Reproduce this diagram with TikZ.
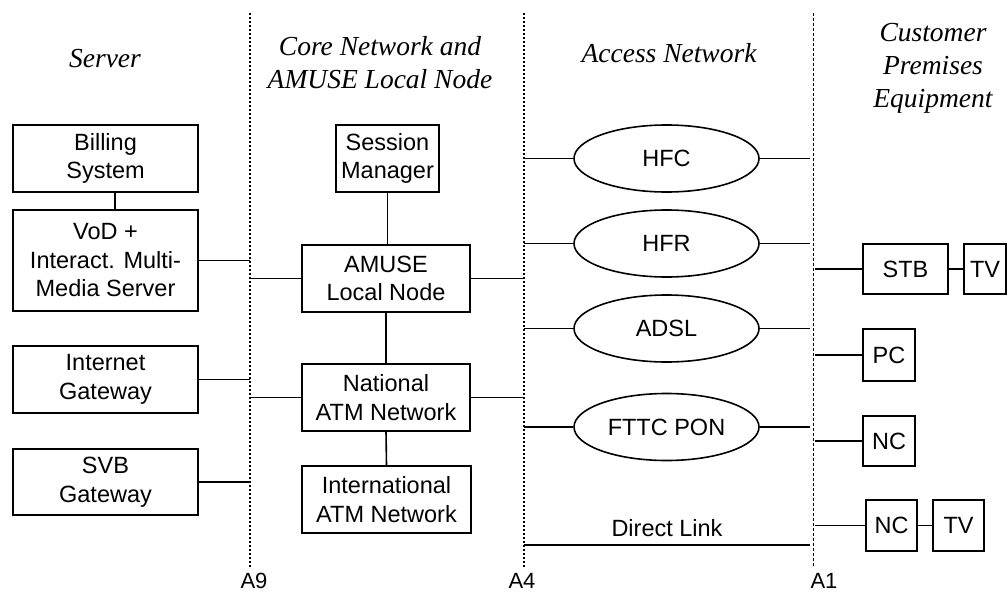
\documentclass[tikz,border=0pt]{standalone}
\usepackage{fontspec}
\setmainfont{Liberation Serif}
\newfontfamily\arialf{Liberation Sans}
\usetikzlibrary{shapes.geometric}
\begin{document}
\begin{tikzpicture}[x=1pt,y=-1pt,
  boxfont/.style={font=\arialf\fontsize{23.5}{28.5}\selectfont},
  box/.style={draw,line width=1.6pt,rectangle,inner sep=0pt,align=center,boxfont},
  oval/.style={draw,line width=1.6pt,ellipse,inner sep=0pt,minimum width=185pt,minimum height=67pt,boxfont},
  link/.style={line width=1.6pt},
  head/.style={font=\fontsize{27.5}{33}\selectfont\itshape,align=center,inner sep=0pt},
  ifline/.style={line width=2pt,dash pattern=on 2pt off 2pt},
  ifthin/.style={line width=1pt,dash pattern=on 3pt off 2pt},
  iflabel/.style={font=\arialf\fontsize{22}{26}\selectfont,inner sep=0pt,anchor=base}]
\useasboundingbox (0,0) rectangle (1008,591);

% interface lines
\coordinate (A9t) at (250,13);  \coordinate (A9b) at (250,567);
\coordinate (A4t) at (524,13);  \coordinate (A4b) at (524,567);
\coordinate (A1t) at (813,13);  \coordinate (A1b) at (813,567);
\coordinate (A4r) at (810,0);   \coordinate (A1r) at (815,0);
\draw[ifline] (A9t) -- (A9b);
\draw[ifline] (A4t) -- (A4b);
\draw[ifthin] (A1t) -- (A1b);

% headers
\node[head,anchor=base] (hserver) at (105,68) {Server};
\node[head] (hcore) at (380,63) {Core Network and\\AMUSE Local Node};
\node[head,anchor=base] (haccess) at (669,63) {Access Network};
\node[head] (hcpe) at (933,68) {Customer\\Premises\\Equipment};

% server column
\node[box,minimum width=185pt,minimum height=67pt] (bill) at (105.5,158.5) {Billing\\System};
\node[box,minimum width=185pt,minimum height=101pt] (vod) at (105.5,260.5) {VoD +\\Interact. Multi-\\Media Server};
\node[box,minimum width=185pt,minimum height=67pt] (inet) at (105.5,379.5) {Internet\\Gateway};
\node[box,minimum width=185pt,minimum height=66pt] (svb) at (105.5,482) {SVB\\Gateway};

% core column
\node[box,minimum width=103pt,minimum height=67pt] (sm) at (387.5,158.5) {Session\\Manager};
\node[box,minimum width=168pt,minimum height=67pt] (amuse) at (386,278.5) {AMUSE\\Local Node};
\node[box,minimum width=168pt,minimum height=67pt] (nat) at (386,397.5) {National\\ATM Network};
\node[box,minimum width=169pt,minimum height=67pt] (intl) at (386.5,499.5) {International\\ATM Network};

% access column
\node[oval] (hfc) at (666.5,158.5) {HFC};
\node[oval] (hfr) at (666.5,243.5) {HFR};
\node[oval] (adsl) at (666.5,328.5) {ADSL};
\node[oval] (fttc) at (666.5,427) {FTTC PON};
\coordinate (dl1) at (524,545);
\coordinate (dl2) at (810,545);
\node[boxfont,inner sep=0pt,anchor=base] (dltext) at (667,536) {Direct Link};

% CPE column
\node[box,minimum width=85pt,minimum height=50pt] (stb) at (905.5,269) {STB};
\node[box,minimum width=42pt,minimum height=50pt] (tv1) at (985,269) {TV};
\node[box,minimum width=52pt,minimum height=52pt] (pc) at (889,355) {PC};
\node[box,minimum width=52pt,minimum height=50pt] (nc1) at (889,441) {NC};
\node[box,minimum width=51pt,minimum height=51pt] (nc2) at (891.5,525.5) {NC};
\node[box,minimum width=51pt,minimum height=51pt] (tv2) at (958.5,525.5) {TV};

% connectors
\draw[link] ([xshift=9.5pt]bill.south) -- ([xshift=9.5pt]vod.north);
\draw[link] (vod.east) -- (vod.east -| A9t);
\draw[link] (inet.east) -- (inet.east -| A9t);
\draw[link] (svb.east) -- (svb.east -| A9t);
\draw[link] (amuse.west -| A9t) -- (amuse.west);
\draw[link] (nat.west -| A9t) -- (nat.west);
\draw[link] (sm.south) -- (sm.south |- amuse.north);
\draw[link] (amuse.south) -- (nat.north);
\draw[link] (nat.south) -- (intl.north);
\draw[link] (amuse.east) -- (amuse.east -| A4t);
\draw[link] (nat.east) -- (nat.east -| A4t);
\foreach \n in {hfc,hfr,adsl,fttc}{
  \draw[link] (\n.west -| A4t) -- (\n.west);
  \draw[link] (\n.east) -- (\n.east -| A4r);
}
\draw[link] (dl1) -- (dl2);
\draw[link] (stb.west -| A1r) -- (stb.west);
\draw[link] (stb.east) -- (tv1.west);
\draw[link] (pc.west -| A1r) -- (pc.west);
\draw[link] (nc1.west -| A1r) -- (nc1.west);
\draw[link] (nc2.west -| A1r) -- (nc2.west);
\draw[link] (nc2.east) -- (tv2.west);

% interface labels
\node[iflabel] (l9) at (254,588) {A9};
\node[iflabel] (l4) at (522,588) {A4};
\node[iflabel] (l1) at (824,588) {A1};
\end{tikzpicture}
\end{document}
